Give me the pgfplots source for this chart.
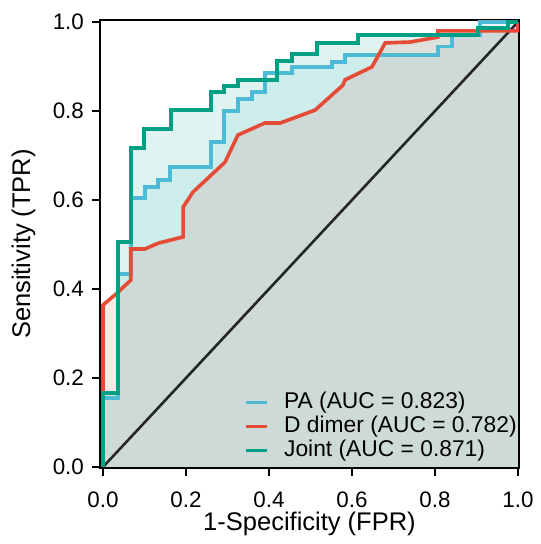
\documentclass[border=0pt]{standalone}
\usepackage{pgfplots}
\pgfplotsset{compat=1.18}
\usepackage{pgfplotstable}
\usepackage{fontspec}
\setmainfont{Liberation Sans}

\definecolor{npgred}{HTML}{E64B35}
\definecolor{npgcyan}{HTML}{4DBBD5}
\definecolor{npggreen}{HTML}{00A087}

\newcommand\tickfont{\fontsize{11.2pt}{13pt}\selectfont}
\newcommand\legfont{\fontsize{11.4pt}{13pt}\selectfont}
\newcommand\labfont{\fontsize{12.75pt}{15pt}\selectfont}

% ROC curves (fpr tpr)
\pgfplotstableread{
fpr tpr
0 0
0 0.155
0.036 0.155
0.036 0.434
0.067 0.434
0.067 0.604
0.101 0.604
0.101 0.629
0.133 0.629
0.133 0.645
0.161 0.645
0.161 0.674
0.260 0.674
0.260 0.730
0.292 0.730
0.292 0.800
0.325 0.800
0.325 0.827
0.359 0.827
0.359 0.843
0.390 0.843
0.390 0.885
0.455 0.885
0.455 0.899
0.552 0.899
0.552 0.910
0.583 0.910
0.583 0.926
0.807 0.926
0.807 0.945
0.841 0.945
0.841 0.970
0.908 0.970
0.908 1.0
1 1
}\pa

\pgfplotstableread{
fpr tpr
0 0
0 0.364
0.034 0.391
0.067 0.420
0.067 0.490
0.101 0.490
0.133 0.503
0.193 0.517
0.193 0.584
0.217 0.618
0.294 0.685
0.325 0.746
0.390 0.773
0.427 0.773
0.511 0.802
0.578 0.858
0.583 0.870
0.648 0.899
0.680 0.953
0.740 0.955
0.807 0.966
0.807 0.980
1 0.980
1 1
}\ddimer

\pgfplotstableread{
fpr tpr
0 0
0 0.166
0.036 0.166
0.036 0.506
0.067 0.506
0.067 0.717
0.099 0.717
0.099 0.760
0.164 0.760
0.164 0.802
0.260 0.802
0.260 0.843
0.292 0.843
0.292 0.856
0.325 0.856
0.325 0.870
0.419 0.870
0.419 0.912
0.455 0.912
0.455 0.928
0.516 0.928
0.516 0.953
0.614 0.953
0.614 0.971
0.904 0.971
0.904 0.987
0.976 0.987
0.976 1
1 1
}\joint

\begin{document}
\begin{tikzpicture}
\begin{axis}[
  name=ax,
  scale only axis,
  width=209.5pt, height=224pt,
  xmin=-0.0072, xmax=1.0024,
  ymin=-0.0022, ymax=1.0045,
  axis line style={line width=1.3pt},
  xtick={0,0.2,0.4,0.6,0.8,1},
  ytick={0,0.2,0.4,0.6,0.8,1},
  tick pos=left,
  tick align=outside,
  major tick length=4pt,
  tick style={line width=1.3pt, black},
  /pgf/number format/fixed,
  /pgf/number format/fixed zerofill,
  /pgf/number format/precision=1,
  /pgf/number format/assume math mode=true,
  ticklabel style={font=\tickfont},
  xticklabel style={yshift=-4.5pt},
  yticklabel style={xshift=-0.5pt},
  xlabel={1-Specificity (FPR)},
  ylabel={Sensitivity (TPR)},
  label style={font=\labfont},
  xlabel style={at={(axis description cs:0.5,-0.1406)}, anchor=base},
  ylabel style={at={(axis description cs:-0.167,0.5)}, anchor=base},
  legend style={at={(axis description cs:0.344,0.0134)}, anchor=south west,
    draw=none, fill=none, font=\legfont, inner sep=0pt, column sep=7.5pt,
    nodes={inner sep=0pt, text height=8.5pt, text depth=2.5pt}, row sep=1pt},
  legend cell align=left,
  legend image code/.code={\draw[#1] (0pt,0pt) -- (10.5pt,0pt);},
  line join=miter,
]
\addplot[draw=none, fill=npgcyan, fill opacity=0.12, forget plot] table {\pa} \closedcycle;
\addplot[draw=none, fill=npgred, fill opacity=0.12, forget plot] table {\ddimer} \closedcycle;
\addplot[draw=none, fill=npggreen, fill opacity=0.12, forget plot] table {\joint} \closedcycle;
\addplot[black!85, line width=1.3pt, forget plot] coordinates {(0,0) (1,1)};

\addplot[npgcyan, line width=1.8pt] table {\pa};
\addlegendentry{PA (AUC = 0.823)}
\addplot[npgred, line width=1.8pt] table {\ddimer};
\addlegendentry{D dimer (AUC = 0.782)}
\addplot[npggreen, line width=1.8pt] table {\joint};
\addlegendentry{Joint (AUC = 0.871)}
\end{axis}
\path ([shift={(-50pt,-38pt)}]ax.south west) rectangle ([shift={(9pt,10pt)}]ax.north east);
\end{tikzpicture}
\end{document}
